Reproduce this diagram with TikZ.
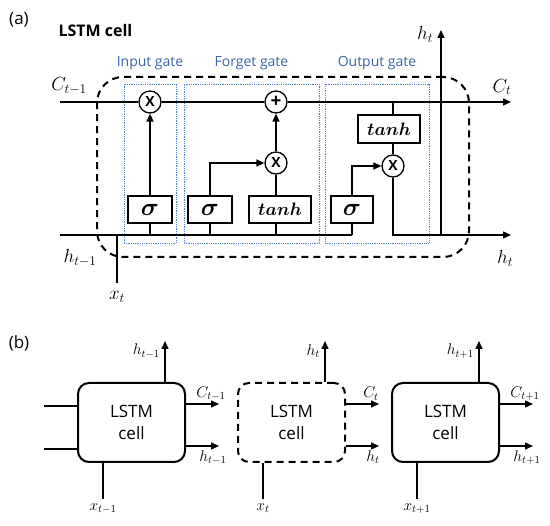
\RequirePackage{fix-cm}
\documentclass[tikz,border=0pt]{standalone}
\usepackage{amsmath,amssymb}
\usepackage[no-math]{fontspec}
\setmainfont{Open Sans}
\usetikzlibrary{positioning,arrows.meta,calc}
\definecolor{gateblue}{HTML}{4F81D0}
\definecolor{gatetext}{HTML}{3A64A8}
\tikzset{
    wire/.style={line width=1.5pt},
    flow/.style={wire,-{Triangle[length=8pt,width=7pt]}},
    every edge/.style={draw,flow},
    op/.style={circle,draw,line width=1.3pt,fill=white,minimum size=22pt,inner sep=0pt,font=\bfseries\fontsize{14}{14}\selectfont},
    fn/.style={draw,line width=1.3pt,fill=white,minimum height=27pt,inner sep=0pt,font=\fontsize{18}{18}\selectfont},
    sig/.style={fn,minimum width=44pt,font=\fontsize{25}{25}\selectfont},
    gate/.style={draw=gateblue,densely dotted,line width=0.8pt},
    gatelbl/.style={text=gatetext,inner sep=0pt,font=\fontsize{14}{14}\selectfont},
    dashframe/.style={draw,line width=2pt,dash pattern=on 7pt off 5pt,rounded corners=26pt},
    lstm/.style={draw,line width=2pt,rounded corners=11pt,minimum width=107pt,minimum height=79pt,align=center,font=\fontsize{17}{22}\selectfont},
    tag/.style={font=\fontsize{17}{17}\selectfont},
    lbl/.style={inner sep=1pt,font=\fontsize{19}{19}\selectfont},
    sml/.style={inner sep=1pt,font=\fontsize{15.5}{15.5}\selectfont},
}

\begin{document}
\begin{tikzpicture}[x=1pt,y=-1pt]
    \useasboundingbox (0,0) rectangle (550,526);

    % (a) inside one cell
    \node[tag] (tagA) at (19,20) {(a)};
    \node[anchor=west,font=\bfseries\fontsize{16}{16}\selectfont] (title) at (55,31) {LSTM cell};

    \node[dashframe,minimum width=372pt,minimum height=180pt] (frame) at (283,167) {};
    \node[gate,minimum width=52pt,minimum height=159pt] (ig) at (150,163.5) {};
    \node[gate,minimum width=135pt,minimum height=159pt] (fg) at (251.5,163.5) {};
    \node[gate,minimum width=104pt,minimum height=159pt] (og) at (377,163.5) {};
    \node[gatelbl,above=14pt of ig] {Input gate};
    \node[gatelbl,above=14pt of fg] {Forget gate};
    \node[gatelbl,above=14pt of og] {Output gate};

    \coordinate (cin) at (60,102);
    \coordinate (cout) at (511,102);
    \coordinate (hin) at (60,235);
    \coordinate (hout) at (511,235);
    \coordinate (xin) at (117,283);
    \coordinate (htop) at (441,30);

    \node[op] (m1) at (150,102) {X};
    \node[op,font=\bfseries\fontsize{19}{19}\selectfont] (p1) at (276,102) {+};
    \node[op] (m2) at (276,163) {X};
    \node[op] (m3) at (393,166) {X};
    \node[sig] (s1) at (150,209.5) {$\boldsymbol{\sigma}$};
    \node[sig] (s2) at (210,209.5) {$\boldsymbol{\sigma}$};
    \node[fn,minimum width=62pt] (t1) at (280,209.5) {$\boldsymbol{tanh}$};
    \node[sig,minimum width=42pt] (s3) at (352,209.5) {$\boldsymbol{\sigma}$};
    \node[fn,minimum width=62pt,minimum height=28pt] (t2) at (389,129) {$\boldsymbol{tanh}$};

    \draw[wire] (cin) -- (m1) -- (p1);
    \draw[wire] (hin) -- (s3 |- hin);
    \draw[wire] (xin) -- (xin |- hin);
    \foreach \g in {s1,s2,s3}
        \draw[wire] (\g.south) -- (\g |- hin);
    \draw[wire] (t1.south -| m2) -- (m2 |- hin);
    \draw[wire] (t1.north -| m2) -- (m2);
    \draw[wire] (m3 |- t2.north) -- (m3 |- cin);
    \draw[wire] (m3 |- t2.south) -- (m3);
    \draw[flow] (s2.north) |- (m2);
    \draw[flow] (s3.north) |- (m3);
    \draw[flow] (m3) |- (hout);
    \path
    (p1) edge (cout)
    (s1) edge (m1)
    (m2) edge (p1)
    (htop |- hin) edge (htop);

    \node[lbl] (cprev) at (69,86) {$C_{t-1}$};
    \node[lbl] (hprev) at (80,258) {$h_{t-1}$};
    \node[lbl] (xcur) at (117,297) {$x_t$};
    \node[lbl] (hup) at (425,34) {$h_t$};
    \node[lbl] (cnext) at (502,87) {$C_t$};
    \node[lbl] (hnext) at (505,258) {$h_t$};

    % (b) unrolled over time
    \node[tag] (tagB) at (19,343) {(b)};
    \node[lstm] (c1) at (131.5,422.5) {LSTM\\cell};
    \node[lstm,dash pattern=on 7pt off 5pt] (c2) at (291.5,422.5) {LSTM\\cell};
    \node[lstm] (c3) at (445.5,422.5) {LSTM\\cell};

    \draw[wire] ($(c1.west)+(-33,-16.5)$) -- ($(c1.west)+(0,-16.5)$);
    \draw[wire] ($(c1.west)+(-33,26.5)$) -- ($(c1.west)+(0,26.5)$);

    \foreach \c/\s in {c1/t-1,c2/t,c3/t+1} {
        \coordinate (\c-up) at ($(\c.north)+(33.5,0)$);
        \draw[flow] (\c-up) -- ++(0,-41) coordinate (\c-tip);
        \node[sml,anchor=east] at ($(\c-tip)+(-4,10)$) {$h_{\s}$};
        \draw[flow] ($(\c.east)+(0,-18.5)$) -- ++(33,0)
            node[sml,above=2pt,xshift=-8pt] {$C_{\s}$};
        \draw[flow] ($(\c.east)+(0,23.5)$) -- ++(33,0)
            node[sml,below=3pt,xshift=-6pt] {$h_{\s}$};
        \draw[wire] ($(\c.south)+(-28.5,0)$) -- ++(0,36)
            node[sml,below=3pt] {$x_{\s}$};
    }
\end{tikzpicture}
\end{document}
